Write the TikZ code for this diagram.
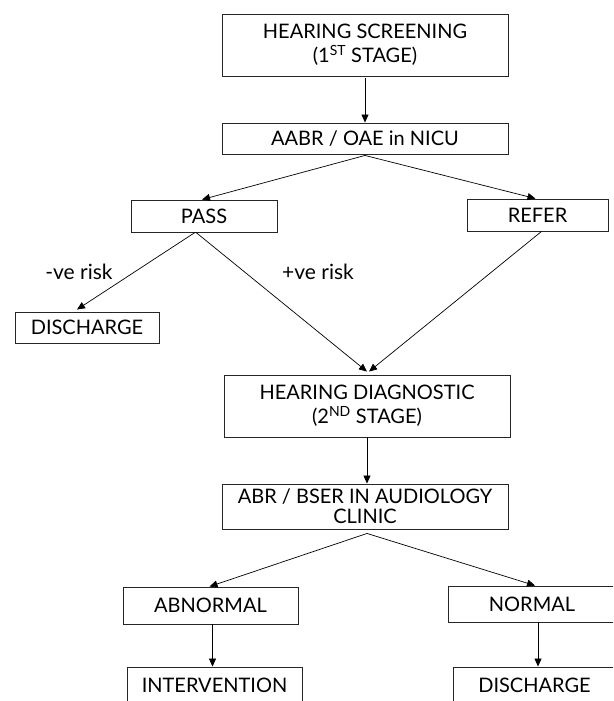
\documentclass[tikz,border=0pt]{standalone}
\usepackage{fontspec}
\setmainfont{Lato}
\usetikzlibrary{arrows.meta,calc}
\begin{document}
\begin{tikzpicture}[x=1pt,y=-1pt,
  box/.style={draw=black!85, line width=0.9pt, rectangle, inner sep=0pt, align=center,
    font=\fontsize{20}{24}\selectfont},
  arr/.style={draw=black, line width=0.7pt, -{Triangle[length=8pt,width=7pt]}},
  lbl/.style={font=\fontsize{21}{24}\selectfont, inner sep=0pt}]
\useasboundingbox (0,0) rectangle (613,701);
\clip (0,0) rectangle (613,701);
\fill[white] (0,0) rectangle (613,701);
% boxes
\node[box, minimum width=286pt, minimum height=62pt] (top) at (365,45)
  {HEARING SCREENING\\(1\textsuperscript{ST} STAGE)};
\node[box, minimum width=286pt, minimum height=31pt] (aabr) at (365,138.5)
  {AABR / OAE in NICU};
\node[box, minimum width=146pt, minimum height=32pt] (pass) at (204,216) {PASS};
\node[box, minimum width=141pt, minimum height=32pt] (refer) at (537.5,215) {REFER};
\node[box, minimum width=144pt, minimum height=31pt] (dis1) at (87,327.5) {DISCHARGE};
\node[box, minimum width=286pt, minimum height=62pt] (hd) at (367,406)
  {HEARING DIAGNOSTIC\\(2\textsuperscript{ND} STAGE)};
\node[box, minimum width=286pt, minimum height=45pt, font=\fontsize{20}{20}\selectfont] (abr) at (365,506.5)
  {ABR / BSER IN AUDIOLOGY\\CLINIC};
\node[box, minimum width=175pt, minimum height=37pt] (abn) at (210.5,605.5) {ABNORMAL};
\node[box, minimum width=168pt, minimum height=36pt] (normal) at (532,604) {NORMAL};
\node[box, minimum width=175pt, minimum height=36pt] (interv) at (214.5,685) {INTERVENTION};
\node[box, minimum width=163pt, minimum height=36pt] (dis2) at (534.5,685) {DISCHARGE};
% labels
\node[lbl] (neg) at (79,272) {-ve risk};
\node[lbl] (pos) at (318,272) {+ve risk};
% connectors
\draw[arr] ([yshift=-2pt]top.south) -- (aabr.north);
\draw[arr] ([yshift=-1pt]aabr.south) -- ([xshift=-2pt]pass.north);
\draw[arr] ([yshift=-1pt]aabr.south) -- ([xshift=-2pt]refer.north);
\draw[arr] ([xshift=-9pt]pass.south) -- ([xshift=-10pt,yshift=2pt]dis1.north);
\draw[arr] ([xshift=-8pt]pass.south) -- ([yshift=3pt]hd.north);
\draw[arr] ([xshift=4pt]refer.south) -- ([xshift=2pt,yshift=3pt]hd.north);
\draw[arr] (hd.south) -- (hd.south |- abr.north);
\draw[arr] ([xshift=2pt,yshift=-4pt]abr.south) -- ([xshift=-1pt]abn.north);
\draw[arr] ([xshift=2pt,yshift=-4pt]abr.south) -- ([xshift=3pt]normal.north);
\draw[arr] ([xshift=2pt]abn.south) -- ([xshift=2pt]abn.south |- interv.north);
\draw[arr] ([xshift=6pt]normal.south) -- ([xshift=6pt]normal.south |- dis2.north);
\end{tikzpicture}
\end{document}
